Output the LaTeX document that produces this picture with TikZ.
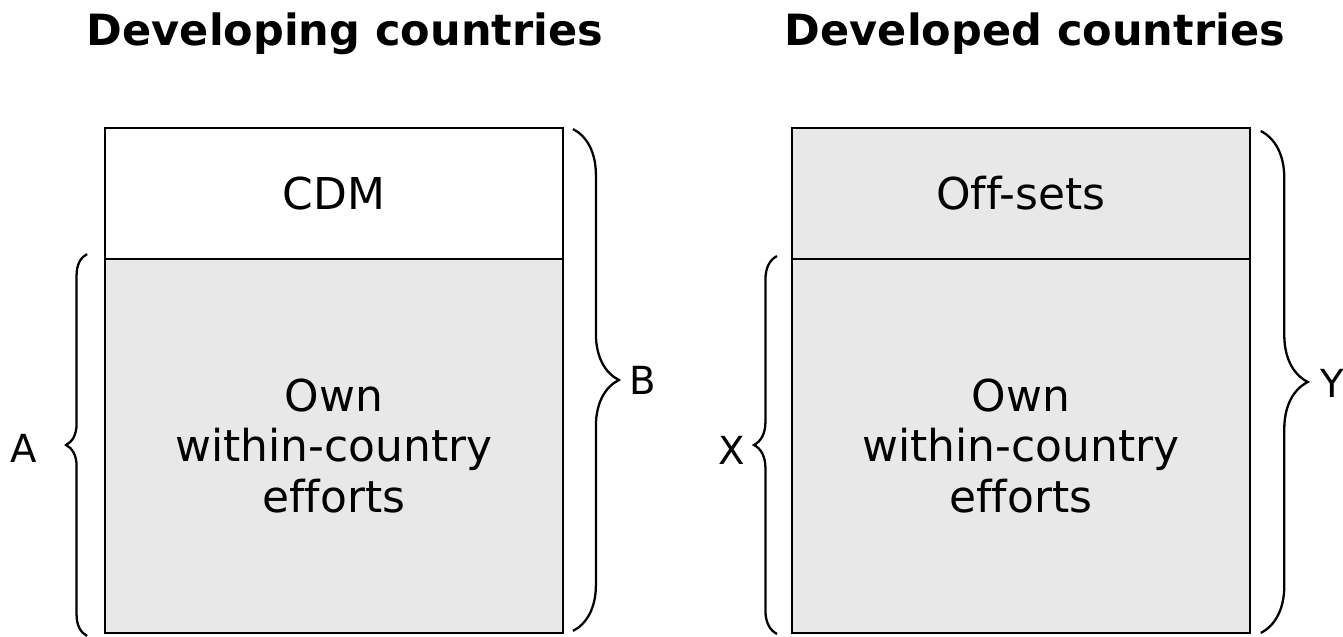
\documentclass[tikz,border=0pt]{standalone}
\usepackage{fontspec}
\setmainfont{DejaVu Sans}[Ligatures=NoCommon]
\usetikzlibrary{positioning, decorations.pathreplacing, calc}
\definecolor{boxgray}{RGB}{232,232,232}

\begin{document}
\begin{tikzpicture}[%
        x=0.02cm, y=0.02cm,
        cellbox/.style={rectangle, draw, line width=1.1pt, minimum width=9.16cm,
            inner sep=0pt, align=center, font=\fontsize{25}{28.5}\selectfont},
        heading/.style={font=\fontsize{24.5}{28}\selectfont\bfseries, anchor=base},
        sidetag/.style={font=\fontsize{22}{26}\selectfont},
        curly/.style={decorate, line width=1.3pt, decoration={brace, amplitude=#1}}
    ]
    \useasboundingbox (0,0) rectangle (1343,636);

    % --- Developing countries ---
    \begin{scope}[xshift=0cm]
        \node[heading] (headL) at (345,590) {Developing countries};
        \node[cellbox, fill=white, minimum height=2.62cm] (cdm) at (334,442.5) {CDM};
        \node[cellbox, fill=boxgray, minimum height=7.48cm] (ownL) at (334,190)
            {Own\\within-country\\efforts};

        \coordinate (a1) at ($(ownL.south west)+(-17,-2)$);
        \coordinate (a2) at ($(ownL.north west)+(-17,4)$);
        \coordinate (b1) at ($(cdm.north east)+(9,-2)$);
        \coordinate (b2) at ($(ownL.south east)+(9,3)$);

        \draw[curly=0.42cm] (a1) -- (a2);
        \draw[curly=0.92cm] (b1) -- (b2);
        \node[sidetag] (labA) at (24,188) {A};
        \node[sidetag] (labB) at (643,256) {B};
    \end{scope}

    % --- Developed countries ---
    \begin{scope}[xshift=13.74cm]
        \node[heading] (headR) at (348,590) {Developed countries};
        \node[cellbox, fill=boxgray, minimum height=2.62cm] (offs) at (334,442.5) {Off-sets};
        \node[cellbox, fill=boxgray, minimum height=7.48cm] (ownR) at (334,190)
            {Own\\within-country\\efforts};

        \coordinate (x1) at ($(ownR.south west)+(-14,0)$);
        \coordinate (x2) at ($(ownR.north west)+(-14,2)$);
        \coordinate (y1) at ($(offs.north east)+(10,-4)$);
        \coordinate (y2) at ($(ownR.south east)+(10,1)$);

        \draw[curly=0.46cm] (x1) -- (x2);
        \draw[curly=0.94cm] (y1) -- (y2);
        \node[sidetag] (labX) at (45,186) {X};
        \node[sidetag] (labY) at (645,253) {Y};
    \end{scope}
\end{tikzpicture}
\end{document}
